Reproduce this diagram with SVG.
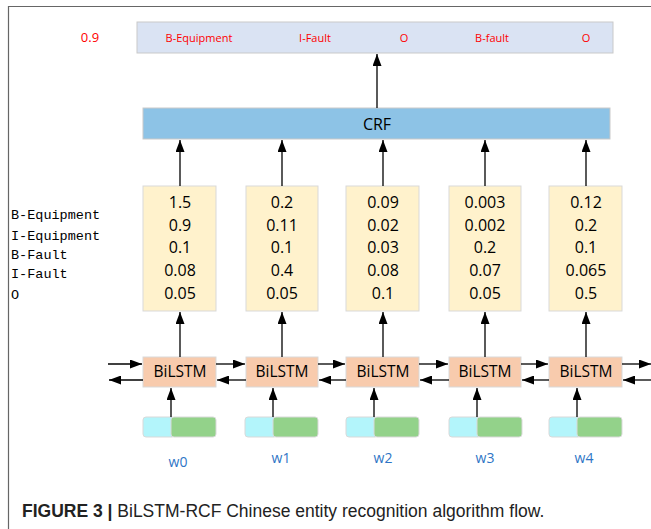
<svg xmlns="http://www.w3.org/2000/svg" width="651" height="529" viewBox="0 0 651 529">
<defs>
<marker id="ah" viewBox="0 0 12 10" refX="12" refY="5" markerWidth="12" markerHeight="9" markerUnits="userSpaceOnUse" orient="auto" preserveAspectRatio="none">
<path d="M0,0 L12,5 L0,10 z" fill="#000"/>
</marker>
<style>
.lab{font-family:"Open Sans","Liberation Sans",sans-serif;font-size:11px;fill:#ff0000;text-anchor:middle}
.num{font-family:"Open Sans","Liberation Sans",sans-serif;font-size:16px;fill:#000;text-anchor:middle}
.score{fill:#fff2cc;stroke:#d9d9d9;stroke-width:1}
.bil{fill:#f8cbad;stroke:#d9d9d9;stroke-width:1}
.bt{font-family:"Open Sans","Liberation Sans",sans-serif;font-size:15.5px;fill:#000;text-anchor:middle}
.cy{fill:#b3f5fb;stroke:#d9d9d9;stroke-width:1}
.gr{fill:#93d28a;stroke:#d9d9d9;stroke-width:1}
.w{font-family:"Open Sans","Liberation Sans",sans-serif;font-size:14px;fill:#2e75c6;text-anchor:middle}
.c{stroke:#000;stroke-width:1.3;fill:none;marker-end:url(#ah)}
.side{font-family:"Liberation Mono",monospace;font-size:13.5px;fill:#000}
</style>
</defs>
<rect width="651" height="529" fill="#fff"/>
<path d="M8.5,529 V6.5 H651" fill="none" stroke="#666" stroke-width="1.2"/>
<g id="top">
<rect x="137" y="22" width="476" height="31" fill="#dae3f3" stroke="#c9c9c9"/>
<text class="lab" x="199" y="42">B-Equipment</text>
<text class="lab" x="315" y="42">I-Fault</text>
<text class="lab" x="404" y="42">O</text>
<text class="lab" x="492" y="42">B-fault</text>
<text class="lab" x="586" y="42">O</text>
</g>
<text x="90" y="42" font-family="'Open Sans','Liberation Sans',sans-serif" font-size="13" fill="#ff0000" text-anchor="middle">0.9</text>
<g id="crf">
<rect x="143" y="108" width="467" height="31" fill="#8dc3e6" stroke="#c9c9c9"/>
<text x="377" y="130" font-family="'Open Sans','Liberation Sans',sans-serif" font-size="16" fill="#000" text-anchor="middle">CRF</text>
</g>
<g id="sidelabels" class="side">
<text x="11" y="219">B-Equipment</text>
<text x="11" y="240">I-Equipment</text>
<text x="11" y="259">B-Fault</text>
<text x="11" y="278">I-Fault</text>
<text x="11" y="299">O</text>
</g>
<g id="s0"><rect class="score" x="143" y="186" width="73" height="125"/>
<text class="num" x="180" y="208">1.5</text><text class="num" x="180" y="231">0.9</text><text class="num" x="180" y="253">0.1</text><text class="num" x="180" y="276">0.08</text><text class="num" x="180" y="299">0.05</text></g>
<g id="s1"><rect class="score" x="246" y="186" width="72" height="125"/>
<text class="num" x="282" y="208">0.2</text><text class="num" x="282" y="231">0.11</text><text class="num" x="282" y="253">0.1</text><text class="num" x="282" y="276">0.4</text><text class="num" x="282" y="299">0.05</text></g>
<g id="s2"><rect class="score" x="346" y="186" width="73" height="125"/>
<text class="num" x="383" y="208">0.09</text><text class="num" x="383" y="231">0.02</text><text class="num" x="383" y="253">0.03</text><text class="num" x="383" y="276">0.08</text><text class="num" x="383" y="299">0.1</text></g>
<g id="s3"><rect class="score" x="449" y="186" width="72" height="125"/>
<text class="num" x="485" y="208">0.003</text><text class="num" x="485" y="231">0.002</text><text class="num" x="485" y="253">0.2</text><text class="num" x="485" y="276">0.07</text><text class="num" x="485" y="299">0.05</text></g>
<g id="s4"><rect class="score" x="549" y="186" width="73" height="125"/>
<text class="num" x="586" y="208">0.12</text><text class="num" x="586" y="231">0.2</text><text class="num" x="586" y="253">0.1</text><text class="num" x="586" y="276">0.065</text><text class="num" x="586" y="299">0.5</text></g>
<g id="b0"><rect class="bil" x="143" y="357" width="73" height="30"/><text class="bt" x="180" y="377">BiLSTM</text></g>
<g id="b1"><rect class="bil" x="246" y="357" width="72" height="30"/><text class="bt" x="282" y="377">BiLSTM</text></g>
<g id="b2"><rect class="bil" x="346" y="357" width="73" height="30"/><text class="bt" x="383" y="377">BiLSTM</text></g>
<g id="b3"><rect class="bil" x="449" y="357" width="72" height="30"/><text class="bt" x="485" y="377">BiLSTM</text></g>
<g id="b4"><rect class="bil" x="549" y="357" width="73" height="30"/><text class="bt" x="586" y="377">BiLSTM</text></g>
<g id="e0"><rect class="cy" x="143" y="417" width="32" height="20" rx="3"/><rect class="gr" x="171" y="417" width="45" height="20" rx="3"/></g>
<g id="e1"><rect class="cy" x="245" y="417" width="32" height="20" rx="3"/><rect class="gr" x="273" y="417" width="45" height="20" rx="3"/></g>
<g id="e2"><rect class="cy" x="346" y="417" width="32" height="20" rx="3"/><rect class="gr" x="374" y="417" width="45" height="20" rx="3"/></g>
<g id="e3"><rect class="cy" x="449" y="417" width="32" height="20" rx="3"/><rect class="gr" x="477" y="417" width="45" height="20" rx="3"/></g>
<g id="e4"><rect class="cy" x="549" y="417" width="32" height="20" rx="3"/><rect class="gr" x="577" y="417" width="45" height="20" rx="3"/></g>
<g id="wlabels">
<text class="w" x="178" y="467">w0</text>
<text class="w" x="281" y="463">w1</text>
<text class="w" x="383" y="463">w2</text>
<text class="w" x="485" y="463">w3</text>
<text class="w" x="584" y="463">w4</text>
</g>
<g id="connectors">
<line class="c" x1="377" y1="108" x2="377" y2="54"/>
<line class="c" x1="180" y1="186" x2="180" y2="140"/>
<line class="c" x1="282" y1="186" x2="282" y2="140"/>
<line class="c" x1="383" y1="186" x2="383" y2="140"/>
<line class="c" x1="485" y1="186" x2="485" y2="140"/>
<line class="c" x1="586" y1="186" x2="586" y2="140"/>
<line class="c" x1="180" y1="357" x2="180" y2="312"/>
<line class="c" x1="282" y1="357" x2="282" y2="312"/>
<line class="c" x1="383" y1="357" x2="383" y2="312"/>
<line class="c" x1="485" y1="357" x2="485" y2="312"/>
<line class="c" x1="586" y1="357" x2="586" y2="312"/>
<line class="c" x1="171" y1="417" x2="171" y2="388"/>
<line class="c" x1="273" y1="417" x2="273" y2="388"/>
<line class="c" x1="374" y1="417" x2="374" y2="388"/>
<line class="c" x1="477" y1="417" x2="477" y2="388"/>
<line class="c" x1="577" y1="417" x2="577" y2="388"/>
<line class="c" x1="108" y1="364" x2="142" y2="364"/>
<line class="c" x1="143" y1="380" x2="109" y2="380"/>
<line class="c" x1="216" y1="364" x2="245" y2="364"/>
<line class="c" x1="246" y1="380" x2="217" y2="380"/>
<line class="c" x1="318" y1="364" x2="345" y2="364"/>
<line class="c" x1="346" y1="380" x2="319" y2="380"/>
<line class="c" x1="419" y1="364" x2="448" y2="364"/>
<line class="c" x1="449" y1="380" x2="420" y2="380"/>
<line class="c" x1="521" y1="364" x2="548" y2="364"/>
<line class="c" x1="549" y1="380" x2="522" y2="380"/>
<line class="c" x1="622" y1="364" x2="651" y2="364"/>
<line class="c" x1="651" y1="380" x2="623" y2="380"/>
</g>
<text x="22" y="517" font-family="'Liberation Sans',Arial,sans-serif" font-size="17.5" fill="#222"><tspan font-weight="bold">FIGURE 3 |</tspan> BiLSTM-RCF Chinese entity recognition algorithm flow.</text>
</svg>
